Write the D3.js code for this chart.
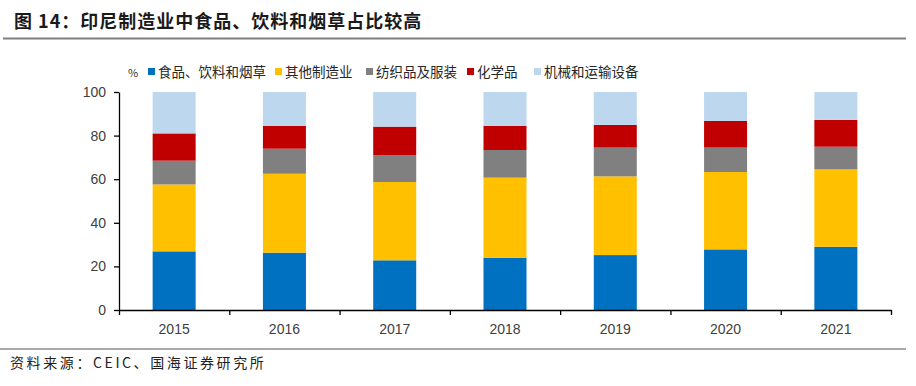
<!DOCTYPE html>
<html>
<head>
<meta charset="utf-8">
<script src="https://cdn.jsdelivr.net/npm/d3@7"></script>
<style>
  body { margin: 0; background: #ffffff; }
  svg { display: block; }
  .cjk { font-family: "Noto Sans CJK SC", "Noto Sans", sans-serif; }
  .num { font-family: "Liberation Sans", Arial, sans-serif; }
</style>
</head>
<body>
<svg id="canvas"></svg>
<script>
////////////////////////////////////////////////////////////////////////////////
// Chart data.
////////////////////////////////////////////////////////////////////////////////
var years = ['2015', '2016', '2017', '2018', '2019', '2020', '2021'];
var seriesNames = ['食品、饮料和烟草', '其他制造业', '纺织品及服装', '化学品', '机械和运输设备'];
var food      = [26.9, 26.3, 22.8, 24.0, 25.2, 27.8, 29.0];
var otherMfg  = [30.7, 36.2, 35.9, 36.7, 36.1, 35.5, 35.5];
var textiles  = [10.9, 11.5, 12.4, 12.7, 13.2, 11.2, 10.4];
var chemicals = [12.5, 10.5, 13.0, 11.1, 10.4, 12.2, 12.3];
var machinery = [19.0, 15.5, 15.9, 15.5, 15.1, 13.3, 12.8];
var yTicks = [0, 20, 40, 60, 80, 100];

var titleText = '图 14：印尼制造业中食品、饮料和烟草占比较高';
var sourceText = '资料来源：CEIC、国海证券研究所';
var unitText = '%';

// Canvas properties.
var canvas = { width: 916, height: 386 };

// Plot area.
var plot = { left: 119, right: 891, top: 92, bottom: 310 };

// Series colours.
var colours = ['#0070C0', '#FFC000', '#808080', '#C00000', '#BDD7EE'];

// Legend square positions (left edge of each square).
var legendX = [148, 275, 366, 467, 534];

////////////////////////////////////////////////////////////////////////////////
// Build the table that d3.stack needs.
////////////////////////////////////////////////////////////////////////////////
var allSeries = [food, otherMfg, textiles, chemicals, machinery];
var table = years.map(function(year, i) {
  var row = { year: year };
  seriesNames.forEach(function(name, s) { row[name] = allSeries[s][i]; });
  return row;
});
var stacked = d3.stack().keys(seriesNames)(table);

var svg = d3.select('#canvas')
            .attr('width', canvas.width)
            .attr('height', canvas.height);

// Scales.
var xScale = d3.scaleBand()
               .domain(years)
               .range([plot.left, plot.right])
               .paddingInner(0.61)
               .paddingOuter(0.305);

var yScale = d3.scaleLinear()
               .domain([0, 100])
               .range([plot.bottom, plot.top]);

// Boundary scale for the category tick marks.
var boundaryScale = d3.scaleLinear()
                      .domain([0, years.length])
                      .range([plot.left, plot.right]);

// Title.
svg.append('text')
   .attr('class', 'cjk')
   .attr('x', 14)
   .attr('y', 28)
   .attr('font-size', 18)
   .attr('font-weight', 'bold')
   .attr('letter-spacing', 1)
   .attr('fill', '#1a1a1a')
   .text(titleText);

// Title rule and bottom rule.
svg.append('line')
   .attr('x1', 3).attr('x2', 906)
   .attr('y1', 38.5).attr('y2', 38.5)
   .attr('stroke', '#7f7f7f')
   .attr('stroke-width', 2);

svg.append('line')
   .attr('x1', 0).attr('x2', 906)
   .attr('y1', 349).attr('y2', 349)
   .attr('stroke', '#8c8c8c')
   .attr('stroke-width', 1.5);

// Source note.
svg.append('text')
   .attr('class', 'cjk')
   .attr('x', 10)
   .attr('y', 368)
   .attr('font-size', 14)
   .attr('letter-spacing', 2.6)
   .attr('fill', '#222')
   .text(sourceText);

// Bars.
var layers = svg.selectAll('.layer')
                .data(stacked)
                .enter()
                .append('g')
                .attr('class', 'layer')
                .attr('fill', function(d, i) { return colours[i]; });

layers.selectAll('rect')
      .data(function(d) { return d; })
      .enter()
      .append('rect')
      .attr('x', function(d) { return xScale(d.data.year); })
      .attr('width', xScale.bandwidth())
      .attr('y', function(d) { return yScale(d[1]); })
      .attr('height', function(d) { return yScale(d[0]) - yScale(d[1]); });

// Vertical axis.
var yAxis = d3.axisLeft(yScale)
              .tickValues(yTicks)
              .tickSize(5)
              .tickPadding(8)
              .tickSizeOuter(0);
var yG = svg.append('g')
            .attr('class', 'num')
            .attr('transform', 'translate(' + plot.left + ',0)')
            .call(yAxis);
yG.selectAll('text').attr('font-size', 14).attr('fill', '#404040').attr('font-family', null);
yG.selectAll('line, path').attr('stroke', '#000').attr('stroke-width', 1.3);

// Horizontal axis: tick marks at category boundaries.
var boundaryAxis = d3.axisBottom(boundaryScale)
                     .ticks(years.length)
                     .tickSize(5)
                     .tickSizeOuter(0)
                     .tickFormat('');
var bG = svg.append('g')
            .attr('transform', 'translate(0,' + plot.bottom + ')')
            .call(boundaryAxis);
bG.selectAll('line, path').attr('stroke', '#000').attr('stroke-width', 1.3);

// Horizontal axis: year labels.
var xAxis = d3.axisBottom(xScale).tickSize(0).tickPadding(14);
var xG = svg.append('g')
            .attr('class', 'num')
            .attr('transform', 'translate(0,' + plot.bottom + ')')
            .call(xAxis);
xG.select('.domain').remove();
xG.selectAll('text').attr('font-size', 14).attr('fill', '#404040').attr('font-family', null);

// Legend.
svg.append('text')
   .attr('class', 'cjk')
   .attr('x', 133)
   .attr('y', 77)
   .attr('text-anchor', 'middle')
   .attr('font-size', 11)
   .attr('fill', '#333')
   .text(unitText);

var legend = svg.selectAll('.legend')
                .data(seriesNames)
                .enter()
                .append('g')
                .attr('class', 'legend')
                .attr('transform', function(d, i) { return 'translate(' + legendX[i] + ',72)'; });

legend.append('rect')
      .attr('x', 0)
      .attr('y', -4)
      .attr('width', 7)
      .attr('height', 7)
      .attr('fill', function(d, i) { return colours[i]; });

legend.append('text')
      .attr('class', 'cjk')
      .attr('x', 10)
      .attr('y', 5)
      .attr('font-size', 13.5)
      .attr('fill', '#262626')
      .text(function(d) { return d; });
</script>
</body>
</html>
